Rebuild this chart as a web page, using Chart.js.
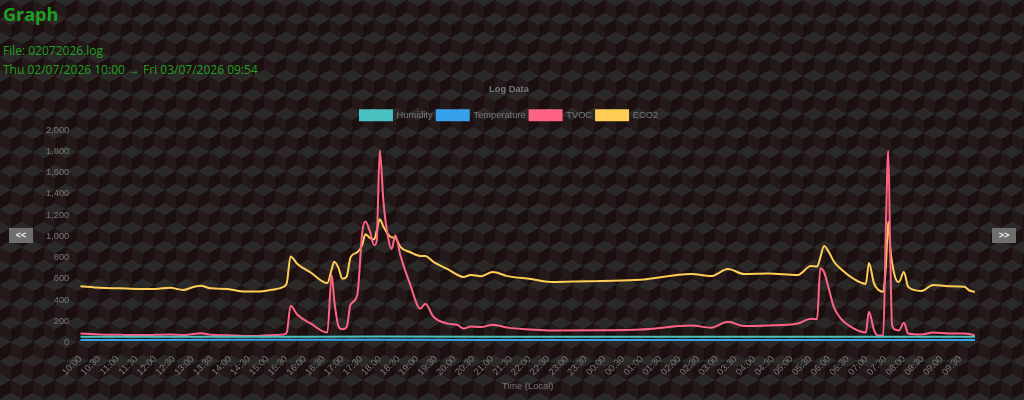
<!DOCTYPE html>
<html>
<head>
<meta charset="utf-8">
<script src="https://cdn.jsdelivr.net/npm/chart.js@4.4.1/dist/chart.umd.min.js"></script>
<style>
  html, body { margin: 0; padding: 0; width: 1024px; height: 400px; overflow: hidden; }
  body {
    font-family: "Open Sans", "Noto Sans", sans-serif;
    background-color: #1c0f0f;
    background-image:
      linear-gradient(30deg, #2b2828 12%, transparent 12.5%, transparent 87%, #2b2828 87.5%, #2b2828),
      linear-gradient(150deg, #2b2828 12%, transparent 12.5%, transparent 87%, #2b2828 87.5%, #2b2828),
      linear-gradient(30deg, #2b2828 12%, transparent 12.5%, transparent 87%, #2b2828 87.5%, #2b2828),
      linear-gradient(150deg, #2b2828 12%, transparent 12.5%, transparent 87%, #2b2828 87.5%, #2b2828),
      linear-gradient(60deg, #241919 25%, transparent 25.5%, transparent 75%, #241919 75%, #241919),
      linear-gradient(60deg, #241919 25%, transparent 25.5%, transparent 75%, #241919 75%, #241919);
    background-size: 22px 38px;
    background-position: 0 0, 0 0, 11px 19px, 11px 19px, 0 0, 11px 19px;
  }
  h1 { position: absolute; left: 3px; top: 2px; margin: 0; font-size: 18px; font-weight: bold; color: #1e9e1e; }
  .info { position: absolute; left: 3px; margin: 0; font-size: 12px; color: #22a022; }
  .btn {
    position: absolute; top: 228px; width: 24px; height: 15px; background: #6f6f6f; color: #eee;
    font: bold 9px "Liberation Sans", Arial, sans-serif; text-align: center; line-height: 15px;
  }
  #wrap { position: absolute; left: 43px; top: 76px; width: 932px; height: 316px; }
</style>
</head>
<body>
<h1>Graph</h1>
<p class="info" style="top:42px">File: 02072026.log</p>
<p class="info" style="top:61px">Thu 02/07/2026 10:00 → Fri 03/07/2026 09:54</p>
<div class="btn" style="left:9px">&lt;&lt;</div>
<div class="btn" style="left:992px">&gt;&gt;</div>
<div id="wrap"><canvas id="grafico"></canvas></div>
<script>
// tiempos de las lecturas (HH:MM, desde jue 10:00 hasta vie 09:54)
const times = ["10:00","10:32","11:04","11:31","12:00","12:24","12:45","13:00","13:13","13:29",
  "13:56","14:22","14:44","15:05","15:26","15:31","15:37","15:48","16:09","16:36",
  "16:43","16:47","16:54","17:00","17:07","17:13","17:24","17:32","17:37","17:44",
  "17:51","17:55","18:00","18:06","18:13","18:19","18:25","18:33","18:49","19:05",
  "19:13","19:26","19:49","20:05","20:14","20:26","20:42","21:01","21:25","22:02",
  "22:34","23:54","00:58","02:19","02:51","03:18","03:44","04:22","05:10","05:31",
  "05:41","05:46","05:52","06:00","06:08","06:19","06:40","06:59","07:04","07:12",
  "07:19","07:27","07:31","07:35","07:38","07:41","07:47","07:52","08:00","08:07",
  "08:28","08:47","09:11","09:37","09:45","09:54"];
const eco2 = [530,515,510,505,505,515,495,520,535,510,
  505,480,480,495,525,560,810,740,660,560,
  690,760,700,600,620,800,850,920,1020,985,
  970,1050,1160,1090,1020,990,985,900,850,815,
  815,760,690,636,617,636,625,664,625,598,
  570,580,590,645,626,692,645,650,636,720,
  715,800,910,850,760,692,598,552,748,560,
  496,477,700,1140,900,757,598,570,664,524,
  486,542,530,524,490,477];
const tvoc = [85,75,72,70,72,75,70,80,88,72,
  68,62,62,68,75,95,345,262,180,94,
  636,400,150,125,145,355,450,1040,1140,1050,
  916,950,1810,1320,1000,880,1010,823,542,318,
  365,243,178,165,131,150,145,168,140,122,
  112,115,122,159,140,196,155,160,178,224,
  220,700,664,500,330,224,131,94,290,120,
  65,65,1040,1805,900,168,120,112,187,84,
  75,94,85,84,80,65];

const envTimes = ["10:00","14:00","18:00","22:00","02:00","06:00","09:54"];
const humidity = [55,54,56,55,54,55,55];
const temperature = [24,25,25,24,23,23,24];

const tickLabels = ["10:00","10:30","11:00","11:30","12:00","12:30","13:00","13:30","14:00","14:30",
  "15:00","15:30","16:00","16:30","17:00","17:30","18:00","18:30","19:00","19:30",
  "20:00","20:30","21:00","21:30","22:00","22:30","23:00","23:30","00:00","00:30",
  "01:00","01:30","02:00","02:30","03:00","03:30","04:00","04:30","05:00","05:30",
  "06:00","06:30","07:00","07:30","08:00","08:30","09:00","09:30"];

// minutos desde las 10:00 del primer día
function minutos(t){
  const [h, m] = t.split(":").map(Number);
  return (h * 60 + m - 600 + 1440) % 1440;
}
function serie(ts, vals){
  return ts.map((t, i) => ({ x: minutos(t), y: vals[i] }));
}

const gris = "#777";
const fs = 9.3;
const ctx = document.getElementById("grafico");

new Chart(ctx, {
  type: "line",
  data: {
    datasets: [
      { label: "Humidity", data: serie(envTimes, humidity), borderColor: "#4BC0C0", backgroundColor: "#4BC0C0" },
      { label: "Temperature", data: serie(envTimes, temperature), borderColor: "#36A2EB", backgroundColor: "#36A2EB" },
      { label: "TVOC", data: serie(times, tvoc), borderColor: "#FF6384", backgroundColor: "#FF6384" },
      { label: "ECO2", data: serie(times, eco2), borderColor: "#FFCD56", backgroundColor: "#FFCD56" }
    ]
  },
  options: {
    responsive: true,
    maintainAspectRatio: false,
    animation: false,
    elements: {
      point: { radius: 0 },
      line: { borderWidth: 2, tension: 0.3, cubicInterpolationMode: "monotone" }
    },
    plugins: {
      title: { display: true, text: "Log Data", color: gris, font: { size: fs, weight: "bold" }, padding: { top: 8, bottom: 11 } },
      legend: { labels: { color: gris, boxWidth: 32, boxHeight: 10, padding: 4, font: { size: fs } } },
      tooltip: { enabled: false }
    },
    scales: {
      x: {
        type: "linear",
        min: 0,
        max: 1434,
        grid: { display: false },
        border: { display: false },
        afterBuildTicks: (axis) => {
          axis.ticks = tickLabels.map((_, i) => ({ value: i * 30 }));
        },
        ticks: {
          color: gris,
          font: { size: fs },
          autoSkip: false,
          minRotation: 45,
          maxRotation: 45,
          callback: (v, i) => tickLabels[i]
        },
        title: { display: true, text: "Time (Local)", color: gris, font: { size: fs }, padding: 0 }
      },
      y: {
        min: 0,
        max: 2000,
        grid: { display: false },
        border: { display: false },
        ticks: { color: gris, font: { size: fs }, stepSize: 200 }
      }
    }
  }
});
</script>
</body>
</html>
